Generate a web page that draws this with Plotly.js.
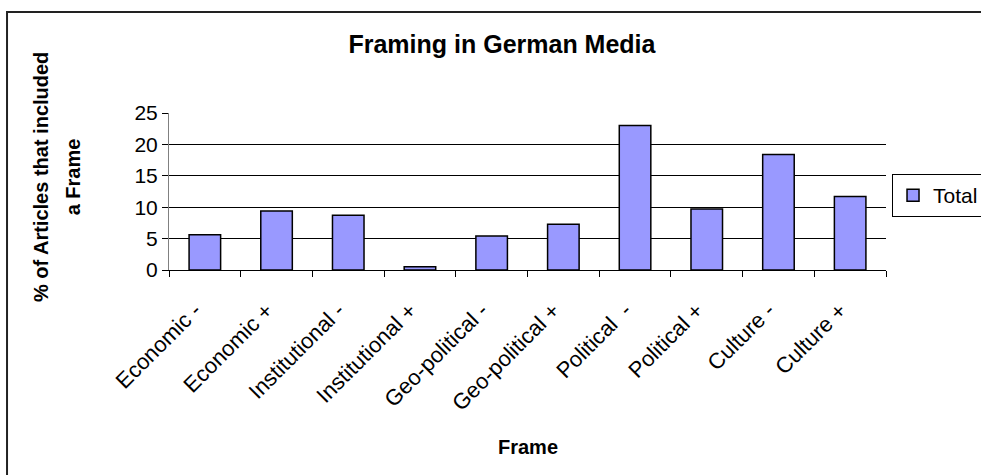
<!DOCTYPE html>
<html>
<head>
<meta charset="utf-8">
<script src="https://cdn.plot.ly/plotly-3.0.1.min.js"></script>
<style>
  html, body { margin: 0; padding: 0; background: #ffffff; overflow: hidden; }
  #chart { width: 1040px; height: 475px; }
</style>
</head>
<body>
<div id="chart"></div>
<script>
const categories = ["Economic -", "Economic +", "Institutional -", "Institutional +", "Geo-political -", "Geo-political +", "Political  -", "Political +", "Culture -", "Culture +"];
const totalValues = [5.6, 9.4, 8.7, 0.5, 5.4, 7.3, 23.0, 9.7, 18.4, 11.7];
const seriesName = "Total";
const yTickValues = [0, 5, 10, 15, 20, 25];
const gridValues = [5, 10, 15, 20];
const chartTitle = "Framing in German Media";
const xTitle = "Frame";
const yTitleLine1 = "% of Articles that included";
const yTitleLine2 = "a Frame";

const FONT = "Liberation Sans, Arial, sans-serif";

const traces = [
  {
    type: "bar",
    name: seriesName,
    x: categories,
    y: totalValues,
    marker: { color: "#9999FF", line: { color: "#000000", width: 1.5 } },
    showlegend: true
  },
  {
    type: "scatter",
    mode: "markers",
    x: [],
    y: [],
    yaxis: "y2",
    showlegend: false,
    hoverinfo: "skip"
  }
];

const layout = {
  width: 1040,
  height: 475,
  margin: { l: 169, r: 154, t: 113, b: 205 },
  paper_bgcolor: "#ffffff",
  plot_bgcolor: "#ffffff",
  font: { family: FONT, size: 21, color: "#000000" },
  bargap: 0.56,
  title: {
    text: "<b>" + chartTitle + "</b>",
    font: { family: FONT, size: 25, color: "#000000" },
    xref: "paper", x: 0.4644, xanchor: "center",
    yref: "container", y: 0.907, yanchor: "middle"
  },
  xaxis: {
    type: "category",
    tickangle: -45,
    tickson: "boundaries",
    ticks: "outside",
    ticklen: 6,
    tickcolor: "#000000",
    showline: true,
    linecolor: "#000000",
    linewidth: 1,
    showgrid: false,
    ticklabelstandoff: 18,
    ticklabelshift: -10,
    tickfont: { family: FONT, size: 22, color: "#000000" },
    automargin: false
  },
  yaxis: {
    range: [0, 25],
    tickvals: yTickValues,
    ticks: "outside",
    ticklen: 6,
    tickcolor: "#000000",
    showline: true,
    linecolor: "#808080",
    linewidth: 1,
    showgrid: false,
    zeroline: false,
    tickfont: { family: FONT, size: 21, color: "#000000" },
    automargin: false
  },
  yaxis2: {
    overlaying: "y",
    anchor: "x",
    side: "left",
    range: [0, 25],
    tickvals: gridValues,
    showgrid: true,
    gridcolor: "#000000",
    gridwidth: 1,
    showticklabels: false,
    ticks: "",
    showline: false,
    zeroline: false
  },
  legend: {
    x: 1.0084, xanchor: "left",
    y: 0.611, yanchor: "top",
    bordercolor: "#000000",
    borderwidth: 1,
    bgcolor: "#ffffff",
    font: { family: FONT, size: 21, color: "#000000" }
  },
  annotations: [
    {
      text: "<b>" + yTitleLine1 + "</b>",
      xref: "paper", yref: "paper",
      x: -0.1785, y: 0.592, xanchor: "center", yanchor: "middle",
      textangle: -90, showarrow: false,
      font: { family: FONT, size: 20, color: "#000000" }
    },
    {
      text: "<b>" + yTitleLine2 + "</b>",
      xref: "paper", yref: "paper",
      x: -0.1335, y: 0.592, xanchor: "center", yanchor: "middle",
      textangle: -90, showarrow: false,
      font: { family: FONT, size: 20, color: "#000000" }
    },
    {
      text: "<b>" + xTitle + "</b>",
      xref: "paper", yref: "paper",
      x: 0.5, y: -1.127, xanchor: "center", yanchor: "middle",
      showarrow: false,
      font: { family: FONT, size: 20, color: "#000000" }
    }
  ],
  shapes: [
    {
      type: "rect", xref: "paper", yref: "paper",
      x0: -0.2259, x1: 1.5, y0: -1.5, y1: 1.643,
      line: { color: "#222222", width: 2 },
      fillcolor: "rgba(0,0,0,0)",
      layer: "below"
    }
  ]
};

Plotly.newPlot("chart", traces, layout, { displayModeBar: false, staticPlot: true });
</script>
</body>
</html>
